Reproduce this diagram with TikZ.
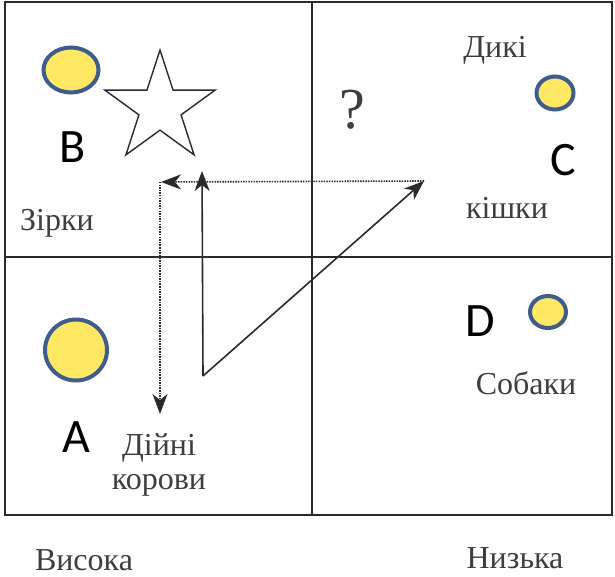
\documentclass[tikz,border=0pt]{standalone}
\usepackage{fontspec}
\setmainfont{Liberation Serif}
\newfontfamily\literafont{Carlito}
\usepackage{tikz}
\usetikzlibrary{arrows.meta,shapes.geometric}
\definecolor{zhovtyi}{HTML}{FFE863}
\definecolor{synii}{HTML}{3E5C8C}
\definecolor{liniya}{HTML}{2A2A2A}
\definecolor{tekst}{HTML}{3E3E3E}

\begin{document}
\begin{tikzpicture}[x=1pt, y=-1pt,
      napys/.style={text=tekst, font=\fontsize{32}{34}\selectfont, inner sep=0pt, align=center},
      litera/.style={font=\literafont\fontsize{48}{48}\selectfont, inner sep=0pt},
      kolo/.style={ellipse, draw=synii, fill=zhovtyi, line width=4pt, inner sep=0pt},
      strilka/.style={-{Stealth[length=20pt, width=15pt, inset=6pt]}, line width=1.6pt, draw=liniya},
      punktyr/.style={strilka, dash pattern=on 1.5pt off 1.1pt},
      sitka/.style={draw=liniya, line width=1.8pt}]
    \useasboundingbox (0,0) rectangle (615,577);
    % matrytsia
    \draw[sitka] (5,2) rectangle (612,515);
    \draw[sitka] (312,2) -- (312,515);
    \draw[sitka] (5,257) -- (612,257);
    % pidpysy kvadrantiv
    \node[napys] (zirky) at (57,223) {Зірки};
    \node[napys] (dyki) at (495,50) {Дикі};
    \node[napys] (kishky) at (507,208) {кішки};
    \node[napys] (korovy) at (159,465) {Дійні\\корови};
    \node[napys] (sobaky) at (526,383) {Собаки};
    \node[napys] (vysoka) at (84,560) {Висока};
    \node[napys] (nyzka) at (515,558) {Низька};
    \node[text=tekst, font=\fontsize{58}{58}\selectfont, inner sep=0pt] (pytannia) at (352,110) {?};
    \node[star, star points=5, star point ratio=2.618, draw=liniya, line width=1.4pt,
          minimum size=116pt, inner sep=0pt] (zirka) at (160,108) {};
    % kola i litery
    \node[kolo, minimum width=55pt, minimum height=45pt] (koloB) at (71,70) {};
    \node[kolo, minimum width=62pt, minimum height=61pt] (koloA) at (76,350) {};
    \node[kolo, minimum width=37pt, minimum height=33pt] (koloC) at (555,93) {};
    \node[kolo, minimum width=36pt, minimum height=32pt] (koloD) at (548,312) {};
    \node[litera] (litB) at (73,147) {B};
    \node[litera] (litA) at (76,437) {A};
    \node[litera] (litC) at (563,160) {C};
    \node[litera] (litD) at (480,321) {D};
    % strilky
    \coordinate (kut) at (203,376);
    \coordinate (verkh) at (202,171);
    \coordinate (pravo) at (424,181);
    \coordinate (livo) at (161,182);
    \coordinate (rig) at (160,182);
    \coordinate (niz) at (160,414);
    \draw[strilka] (kut) -- (verkh);
    \draw[strilka] (kut) -- (pravo);
    \draw[punktyr] (pravo) -- (livo);
    \draw[punktyr] (rig) -- (niz);
  \end{tikzpicture}
\end{document}
